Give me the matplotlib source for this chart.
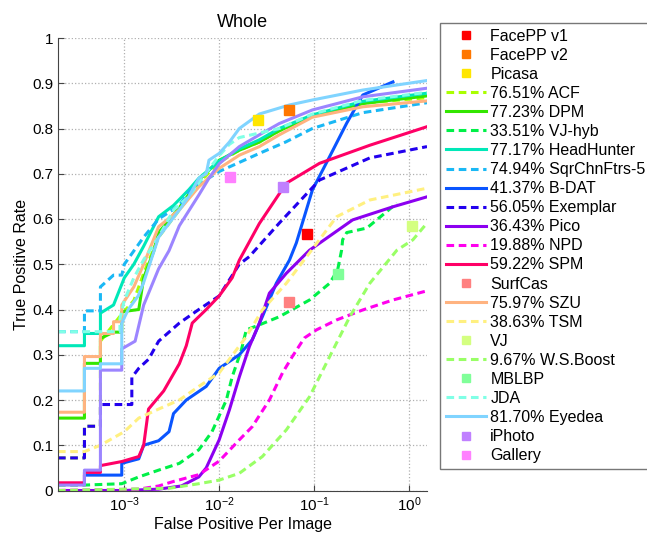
import matplotlib
matplotlib.use("Agg")
import matplotlib.pyplot as plt

plt.rcParams['font.family'] = ['Liberation Sans', 'DejaVu Sans']
plt.rcParams['mathtext.default'] = 'regular'

# curves: false positives per image (x), true positive rate (y)
acf_x = [2e-4, 3.8e-4, 3.8e-4, 5.6e-4, 5.6e-4, 9.4e-4, 1.26e-3, 1.6e-3, 2.3e-3, 3.8e-3, 6.1e-3, 1.0e-2, 1.63e-2, 2.65e-2, 4.3e-2, 9.6e-2, 0.326, 1.55]
acf_y = [0.072, 0.072, 0.142, 0.142, 0.33, 0.39, 0.42, 0.48, 0.56, 0.62, 0.68, 0.725, 0.752, 0.77, 0.795, 0.828, 0.856, 0.868]

dpm_x = [2e-4, 3.8e-4, 3.8e-4, 5.6e-4, 5.6e-4, 7.7e-4, 9.4e-4, 9.4e-4, 1.42e-3, 1.6e-3, 2.05e-3, 2.3e-3, 3.8e-3, 6.1e-3, 1.0e-2, 1.63e-2, 2.65e-2, 4.3e-2, 9.6e-2, 0.326, 1.55]
dpm_y = [0.16, 0.16, 0.281, 0.281, 0.336, 0.35, 0.35, 0.395, 0.40, 0.47, 0.53, 0.57, 0.625, 0.686, 0.73, 0.752, 0.77, 0.795, 0.828, 0.855, 0.872]

vjhyb_x = [2e-4, 3.8e-4, 9.4e-4, 1.42e-3, 2.3e-3, 3.8e-3, 6.1e-3, 8.4e-3, 1.19e-2, 1.37e-2, 1.71e-2, 1.93e-2, 2.65e-2, 4.3e-2, 8.95e-2, 0.146, 0.177, 0.195, 0.2, 0.221, 0.36, 0.746]
vjhyb_y = [0.012, 0.012, 0.015, 0.03, 0.045, 0.06, 0.09, 0.13, 0.2, 0.251, 0.31, 0.355, 0.366, 0.384, 0.421, 0.458, 0.487, 0.531, 0.554, 0.57, 0.58, 0.635]

hh_x = [2e-4, 3.8e-4, 3.8e-4, 5.6e-4, 5.6e-4, 7.7e-4, 1.0e-3, 1.26e-3, 1.6e-3, 2.3e-3, 3.3e-3, 4.8e-3, 6.1e-3, 1.0e-2, 1.63e-2, 2.65e-2, 4.3e-2, 9.6e-2, 0.326, 1.55]
hh_y = [0.32, 0.32, 0.347, 0.347, 0.392, 0.41, 0.47, 0.50, 0.54, 0.605, 0.63, 0.665, 0.69, 0.728, 0.755, 0.775, 0.80, 0.83, 0.86, 0.878]

sqr_x = [2e-4, 3.8e-4, 3.8e-4, 5.6e-4, 5.6e-4, 7.7e-4, 9.4e-4, 1.0e-3, 1.6e-3, 2.3e-3, 3.8e-3, 5.0e-3, 1.0e-2, 1.63e-2, 2.65e-2, 5.0e-2, 9.6e-2, 0.326, 1.55]
sqr_y = [0.351, 0.351, 0.397, 0.397, 0.45, 0.476, 0.476, 0.50, 0.56, 0.60, 0.63, 0.665, 0.705, 0.725, 0.745, 0.77, 0.80, 0.835, 0.857]

bdat_x = [2e-4, 3.8e-4, 3.8e-4, 9.4e-4, 9.4e-4, 1.42e-3, 1.6e-3, 2.3e-3, 2.96e-3, 3.3e-3, 4.5e-3, 7.3e-3, 1.0e-2, 1.63e-2, 2.23e-2, 2.85e-2, 4.0e-2, 5.5e-2, 6.5e-2, 9.6e-2, 0.146, 0.221, 0.326, 0.678]
bdat_y = [0.015, 0.015, 0.034, 0.034, 0.06, 0.07, 0.10, 0.11, 0.13, 0.17, 0.20, 0.23, 0.27, 0.30, 0.333, 0.384, 0.458, 0.509, 0.547, 0.664, 0.738, 0.812, 0.874, 0.903]

exemplar_x = [2e-4, 3.8e-4, 3.8e-4, 5.6e-4, 5.6e-4, 1.2e-3, 1.2e-3, 1.42e-3, 1.8e-3, 2.3e-3, 3.8e-3, 6.1e-3, 1.0e-2, 1.63e-2, 2.08e-2, 4.3e-2, 0.114, 0.387, 1.55]
exemplar_y = [0.072, 0.072, 0.142, 0.142, 0.19, 0.19, 0.25, 0.27, 0.29, 0.33, 0.37, 0.40, 0.43, 0.50, 0.517, 0.591, 0.686, 0.735, 0.76]

pico_x = [2e-4, 1.0e-3, 2.3e-3, 4.0e-3, 6.1e-3, 7.3e-3, 1.0e-2, 1.28e-2, 1.63e-2, 2.08e-2, 2.65e-2, 3.38e-2, 5.1e-2, 8.95e-2, 0.255, 0.678, 1.55]
pico_y = [0.0, 0.0, 0.003, 0.01, 0.03, 0.05, 0.112, 0.178, 0.251, 0.318, 0.37, 0.436, 0.48, 0.531, 0.598, 0.627, 0.649]

npd_x = [2e-4, 1.42e-3, 2.3e-3, 3.3e-3, 6.1e-3, 1.0e-2, 1.63e-2, 2.23e-2, 3.38e-2, 4.65e-2, 5.9e-2, 7.9e-2, 0.106, 0.173, 0.326, 0.678, 1.41, 1.55]
npd_y = [0.0, 0.003, 0.01, 0.02, 0.035, 0.065, 0.112, 0.141, 0.2, 0.26, 0.296, 0.337, 0.355, 0.377, 0.399, 0.421, 0.439, 0.441]

spm_x = [2e-4, 3.8e-4, 3.8e-4, 5.6e-4, 5.6e-4, 9.4e-4, 1.42e-3, 1.6e-3, 1.8e-3, 2.6e-3, 3.8e-3, 4.5e-3, 5.2e-3, 7.3e-3, 1.0e-2, 1.37e-2, 1.63e-2, 2.65e-2, 5.1e-2, 0.114, 0.387, 1.55]
spm_y = [0.017, 0.017, 0.04, 0.04, 0.055, 0.064, 0.075, 0.10, 0.18, 0.22, 0.28, 0.32, 0.37, 0.40, 0.43, 0.47, 0.509, 0.59, 0.679, 0.723, 0.763, 0.804]

szu_x = [2e-4, 3.8e-4, 3.8e-4, 5.6e-4, 5.6e-4, 7.7e-4, 7.7e-4, 9.4e-4, 9.4e-4, 1.26e-3, 1.6e-3, 2.3e-3, 3.8e-3, 6.1e-3, 1.0e-2, 1.63e-2, 2.65e-2, 4.3e-2, 9.6e-2, 0.326, 1.55]
szu_y = [0.173, 0.173, 0.296, 0.296, 0.347, 0.347, 0.373, 0.373, 0.41, 0.45, 0.50, 0.583, 0.62, 0.671, 0.712, 0.741, 0.76, 0.786, 0.825, 0.848, 0.861]

tsm_x = [2e-4, 3.8e-4, 5.6e-4, 1.0e-3, 1.42e-3, 2.3e-3, 3.8e-3, 6.1e-3, 1.0e-2, 1.93e-2, 2.85e-2, 5.1e-2, 8.95e-2, 0.173, 0.387, 1.55]
tsm_y = [0.086, 0.086, 0.10, 0.13, 0.16, 0.18, 0.20, 0.23, 0.26, 0.34, 0.399, 0.458, 0.525, 0.605, 0.642, 0.668]

wsb_x = [2e-4, 3.0e-3, 6.1e-3, 1.0e-2, 1.63e-2, 2.85e-2, 5.1e-2, 8.95e-2, 0.146, 0.238, 0.387, 0.746, 1.10, 1.55]
wsb_y = [0.0, 0.005, 0.015, 0.023, 0.038, 0.075, 0.134, 0.207, 0.296, 0.384, 0.458, 0.531, 0.554, 0.591]

jda_x = [2e-4, 9e-4, 9e-4, 1.0e-3, 1.26e-3, 1.6e-3, 2.3e-3, 3.3e-3, 4.8e-3, 6.1e-3, 7.8e-3, 1.0e-2, 1.28e-2, 1.63e-2, 2.08e-2, 4.3e-2, 9.6e-2, 0.326, 1.55]
jda_y = [0.351, 0.351, 0.38, 0.42, 0.47, 0.51, 0.56, 0.62, 0.65, 0.68, 0.71, 0.74, 0.765, 0.78, 0.785, 0.80, 0.832, 0.862, 0.880]

eyedea_x = [2e-4, 3.8e-4, 3.8e-4, 5.6e-4, 5.6e-4, 9.4e-4, 9.4e-4, 1.1e-3, 1.4e-3, 1.6e-3, 2.3e-3, 3.8e-3, 4.8e-3, 6.1e-3, 7.3e-3, 7.8e-3, 1.0e-2, 1.28e-2, 1.63e-2, 2.65e-2, 5.5e-2, 9.6e-2, 0.326, 1.55]
eyedea_y = [0.22, 0.22, 0.27, 0.27, 0.28, 0.28, 0.37, 0.40, 0.43, 0.46, 0.56, 0.62, 0.65, 0.69, 0.70, 0.73, 0.745, 0.77, 0.80, 0.832, 0.852, 0.863, 0.885, 0.906]

# curve drawn without a legend entry
other_x = [2e-4, 3.8e-4, 3.8e-4, 5.6e-4, 5.6e-4, 9.4e-4, 9.4e-4, 1.3e-3, 1.6e-3, 2.3e-3, 2.96e-3, 3.8e-3, 6.1e-3, 7.8e-3, 1.0e-2, 1.63e-2, 2.65e-2, 4.3e-2, 9.6e-2, 0.326, 1.55]
other_y = [0.012, 0.012, 0.045, 0.045, 0.266, 0.266, 0.313, 0.33, 0.41, 0.49, 0.53, 0.585, 0.653, 0.69, 0.722, 0.76, 0.786, 0.811, 0.841, 0.87, 0.889]

# single operating points
points = {
    'FacePP v1': (0.085, 0.567),
    'FacePP v2': (0.055, 0.841),
    'Picasa': (0.0259, 0.819),
    'SurfCas': (0.0547, 0.416),
    'VJ': (1.07, 0.585),
    'MBLBP': (0.179, 0.478),
    'iPhoto': (0.0475, 0.670),
    'Gallery': (0.0130, 0.692),
}

fig = plt.figure(figsize=(6.47, 5.33), dpi=100)
ax = fig.add_axes([58 / 647, 1 - 490.5 / 533, (427 - 58) / 647, (490.5 - 38) / 533])

lw = 2.2
dash = (2.5, 1.5)

def curve(x, y, c, dashed, label):
    if dashed:
        l, = ax.plot(x, y, color=c, lw=lw, dashes=dash, label=label)
    else:
        l, = ax.plot(x, y, color=c, lw=lw, label=label)
    return l

def point(name, c):
    px, py = points[name]
    l, = ax.plot([px], [py], 's', color=c, ms=6.5, mec=c, label=name, zorder=5)
    return l

handles = []
handles.append(point('FacePP v1', '#ff0000'))
handles.append(point('FacePP v2', '#ff7700'))
handles.append(point('Picasa', '#ffe600'))
handles.append(curve(acf_x, acf_y, '#aaff00', True, '76.51% ACF'))
handles.append(curve(dpm_x, dpm_y, '#33e600', False, '77.23% DPM'))
handles.append(curve(vjhyb_x, vjhyb_y, '#00f048', True, '33.51% VJ-hyb'))
handles.append(curve(hh_x, hh_y, '#00e8b8', False, '77.17% HeadHunter'))
handles.append(curve(sqr_x, sqr_y, '#1ab8f5', True, '74.94% SqrChnFtrs-5'))
handles.append(curve(bdat_x, bdat_y, '#0a55ff', False, '41.37% B-DAT'))
handles.append(curve(exemplar_x, exemplar_y, '#2200ee', True, '56.05% Exemplar'))
handles.append(curve(pico_x, pico_y, '#8c00f0', False, '36.43% Pico'))
handles.append(curve(npd_x, npd_y, '#ff00ee', True, '19.88% NPD'))
handles.append(curve(spm_x, spm_y, '#ff0066', False, '59.22% SPM'))
handles.append(point('SurfCas', '#ff8080'))
handles.append(curve(szu_x, szu_y, '#ffb380', False, '75.97% SZU'))
handles.append(curve(tsm_x, tsm_y, '#fff080', True, '38.63% TSM'))
handles.append(point('VJ', '#d4ff80'))
handles.append(curve(wsb_x, wsb_y, '#99ff66', True, '9.67% W.S.Boost'))
handles.append(point('MBLBP', '#80ff99'))
handles.append(curve(other_x, other_y, '#9c85ff', False, None))
handles.append(curve(jda_x, jda_y, '#80ffe6', True, 'JDA'))
handles.append(curve(eyedea_x, eyedea_y, '#80d4ff', False, '81.70% Eyedea'))
handles.append(point('iPhoto', '#c080ff'))
handles.append(point('Gallery', '#ff80ff'))
handles = [h for h in handles if h.get_label() and not h.get_label().startswith('_')]

ax.set_xscale('log')
ax.set_xlim(2e-4, 1.55)
ax.set_ylim(0, 1)
ax.set_yticks([0, 0.1, 0.2, 0.3, 0.4, 0.5, 0.6, 0.7, 0.8, 0.9, 1])
ax.set_yticklabels(['0', '0.1', '0.2', '0.3', '0.4', '0.5', '0.6', '0.7', '0.8', '0.9', '1'])
ax.set_xticks([1e-3, 1e-2, 1e-1, 1e0])
ax.set_xticklabels(['$10^{-3}$', '$10^{-2}$', '$10^{-1}$', '$10^{0}$'])
ax.minorticks_off()
ax.tick_params(direction='in', labelsize=11, length=4, color='#444444')
ax.grid(True, linestyle=':', color='#b0b0b0', lw=0.9)
ax.set_axisbelow(True)
for s in ['top', 'right']:
    ax.spines[s].set_visible(False)
for s in ['left', 'bottom']:
    ax.spines[s].set_color('#444444')

ax.set_title('Whole', fontsize=13, pad=8)
ax.set_xlabel('False Positive Per Image', fontsize=11.5, labelpad=2)
ax.set_ylabel('True Positive Rate', fontsize=11.5, labelpad=2)

leg = fig.legend(handles=handles, loc='upper left', bbox_to_anchor=(440 / 647, 1 - 23 / 533),
                 fontsize=11.5, frameon=True, fancybox=False, edgecolor='#555555',
                 handlelength=2.5, handletextpad=0.3, labelspacing=0.255, borderpad=0.35,
                 borderaxespad=0, markerscale=0.8)
leg.get_frame().set_linewidth(1.0)

fig.savefig('out.png', dpi=100)
